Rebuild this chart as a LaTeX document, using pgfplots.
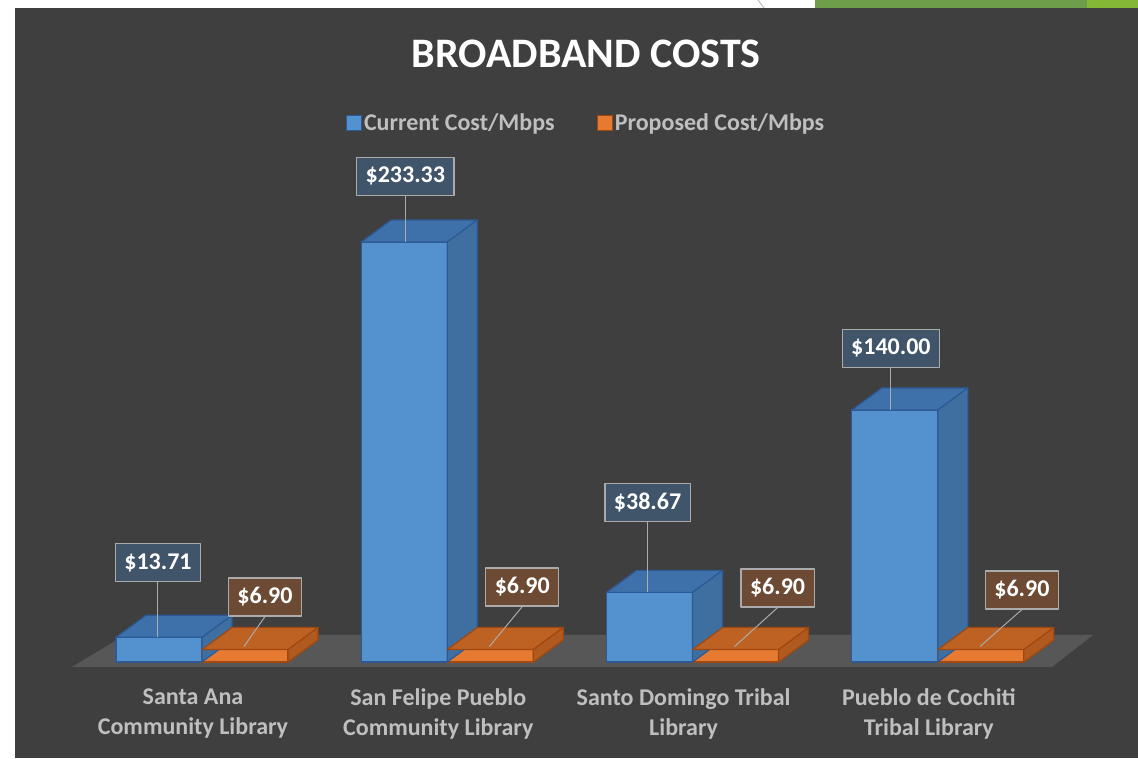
\documentclass[border=0pt]{standalone}
\usepackage{pgfplots}
\pgfplotsset{compat=1.18}
\usepackage{pgfplotstable}
\usepackage{fontspec}
\setmainfont{Carlito}
\definecolor{bg}{HTML}{3F3F3F}
\definecolor{floorc}{HTML}{575757}
\definecolor{lgray}{HTML}{BFBFBF}
\definecolor{bfront}{HTML}{5392CF}
\definecolor{btop}{HTML}{3E70AA}
\definecolor{bside}{HTML}{3F6EA0}
\definecolor{bedge}{HTML}{2D5A96}
\definecolor{ofront}{HTML}{E67A30}
\definecolor{otop}{HTML}{BE6224}
\definecolor{oside}{HTML}{B05A20}
\definecolor{oedge}{HTML}{A0480F}
\definecolor{blab}{HTML}{40546A}
\definecolor{olab}{HTML}{6D4A34}
\definecolor{labborder}{HTML}{ABABAB}
\definecolor{gA}{HTML}{6F9E4A}
\definecolor{gB}{HTML}{84B736}

\pgfplotstableread{
x cur cox coy prop pox poy
0 13.71 -44 55 6.90 63 33
1 233.33 -42 46 6.90 75 43
2 38.67 -45 70 6.90 85 42
3 140.00 -47 42 6.90 84 40
}\costs

\newcommand\labfont{\fontsize{24}{28}\selectfont\bfseries}
\newcommand\catfont{\fontsize{24}{30}\selectfont\bfseries}

% #1 left, #2 right, #3 top colour, #4 side colour, #5 edge colour, #6 height (pt number)
\newcommand\cubefaces[6]{%
  \pgfsetlinewidth{1.2pt}\pgfsetroundjoin
  \pgfsetstrokecolor{#5}%
  \pgfpathmoveto{\pgfpoint{#1}{0pt}}%
  \pgfpathlineto{\pgfpoint{#2}{0pt}}%
  \pgfpathlineto{\pgfpoint{#2+30pt}{22pt}}%
  \pgfpathlineto{\pgfpoint{#1+30pt}{22pt}}%
  \pgfpathclose
  \pgfsetfillcolor{#3}\pgfusepath{fill,stroke}%
  \pgfpathmoveto{\pgfpoint{#2}{0pt}}%
  \pgfpathlineto{\pgfpoint{#2+30pt}{22pt}}%
  \pgfpathlineto{\pgfpoint{#2+30pt}{22pt-#6pt}}%
  \pgfpathlineto{\pgfpoint{#2}{-#6pt}}%
  \pgfpathclose
  \pgfsetfillcolor{#4}\pgfusepath{fill,stroke}%
}
\pgfdeclareplotmark{cubeblue}{\cubefaces{-86pt}{0pt}{btop}{bside}{bedge}{\cubeh}}
\pgfdeclareplotmark{cubeorange}{\cubefaces{0pt}{86pt}{otop}{oside}{oedge}{\cubeh}}

\begin{document}
\begin{tikzpicture}[x=1pt,y=1pt]
\useasboundingbox (0,0) rectangle (1138,758);
\fill[white] (0,0) rectangle (1138,758);
\fill[bg] (15,0) rectangle (1138,750);
\fill[gA] (815,750) rectangle (1087,758);
\fill[gB] (1087,750) rectangle (1138,758);
\draw[gray!60, line width=0.8pt] (758,758) -- (764,750);
% floor
\fill[floorc] (72,91) -- (1052,91) -- (1093,123) -- (125,123) -- cycle;
% title
\node[anchor=base, text=white, font=\fontsize{42}{50}\selectfont\bfseries] at (586,690) {BROADBAND COSTS};

\begin{axis}[
  anchor=south west, at={(54.8pt,96pt)},
  x=245.3pt, y=1.8pt, scale only axis,
  xmin=-0.6, xmax=3.6, ymin=0, ymax=260,
  clip=false,
  axis line style={draw=none}, tick style={draw=none},
  ytick=\empty,
  xtick={0,1,2,3},
  xticklabels={{Santa Ana\\Community Library},{San Felipe Pueblo\\Community Library},{Santo Domingo Tribal\\Library},{Pueblo de Cochiti\\Tribal Library}},
  xticklabel style={align=center, font=\catfont, text=lgray, xshift=-9pt, yshift=-23pt},
  legend style={at={(axis description cs:0.5156,1.1517)}, anchor=center, legend columns=2,
     draw=none, fill=none, text=lgray, font=\labfont,
     /tikz/every even column/.append style={column sep=40pt}},
]
\addplot[ybar, bar width=86pt, bar shift=-43pt, fill=bfront, draw=bedge, line width=1.2pt,
  legend image code/.code={\draw[fill=bfront, draw=bedge, line width=1.2pt] (0pt,-7.5pt) rectangle (15pt,7.5pt);}]
  table[x=x,y=cur]{\costs};
\addlegendentry{Current Cost/Mbps}
\addplot[only marks, mark=cubeblue,
  visualization depends on={1.8*\thisrow{cur} \as \cubeh},
  visualization depends on={\thisrow{cox} \as \lox},
  visualization depends on={\thisrow{coy} \as \loy},
  nodes near coords={\$\pgfmathprintnumber[fixed,fixed zerofill,precision=2,assume math mode=true]{\pgfplotspointmeta}},
  every node near coord/.style={anchor=south, xshift=\lox*1pt, yshift=\loy*1pt,
     fill=blab, draw=labborder, line width=1.2pt, text=white, font=\labfont,
     inner xsep=9pt, minimum height=38pt,
     append after command={(\tikzlastnode.south) edge[draw=labborder, line width=1pt] ++(0pt,{-\loy*1pt})}},
  forget plot]
  table[x=x,y=cur]{\costs};
\addplot[ybar, bar width=86pt, bar shift=43pt, fill=ofront, draw=oedge, line width=1.2pt,
  legend image code/.code={\draw[fill=ofront, draw=oedge, line width=1.2pt] (0pt,-7.5pt) rectangle (15pt,7.5pt);}]
  table[x=x,y=prop]{\costs};
\addlegendentry{Proposed Cost/Mbps}
\addplot[only marks, mark=cubeorange,
  visualization depends on={1.8*\thisrow{prop} \as \cubeh},
  visualization depends on={\thisrow{pox} \as \lox},
  visualization depends on={\thisrow{poy} \as \loy},
  nodes near coords={\$\pgfmathprintnumber[fixed,fixed zerofill,precision=2,assume math mode=true]{\pgfplotspointmeta}},
  every node near coord/.style={anchor=south, xshift=\lox*1pt, yshift=\loy*1pt,
     fill=olab, draw=labborder, line width=1.2pt, text=white, font=\labfont,
     inner xsep=9pt, minimum height=38pt,
     append after command={(\tikzlastnode.south) edge[draw=labborder, line width=1pt] ++({(42-\lox)*1pt},{(3-\loy)*1pt})}},
  forget plot]
  table[x=x,y=prop]{\costs};
\end{axis}
\end{tikzpicture}
\end{document}
